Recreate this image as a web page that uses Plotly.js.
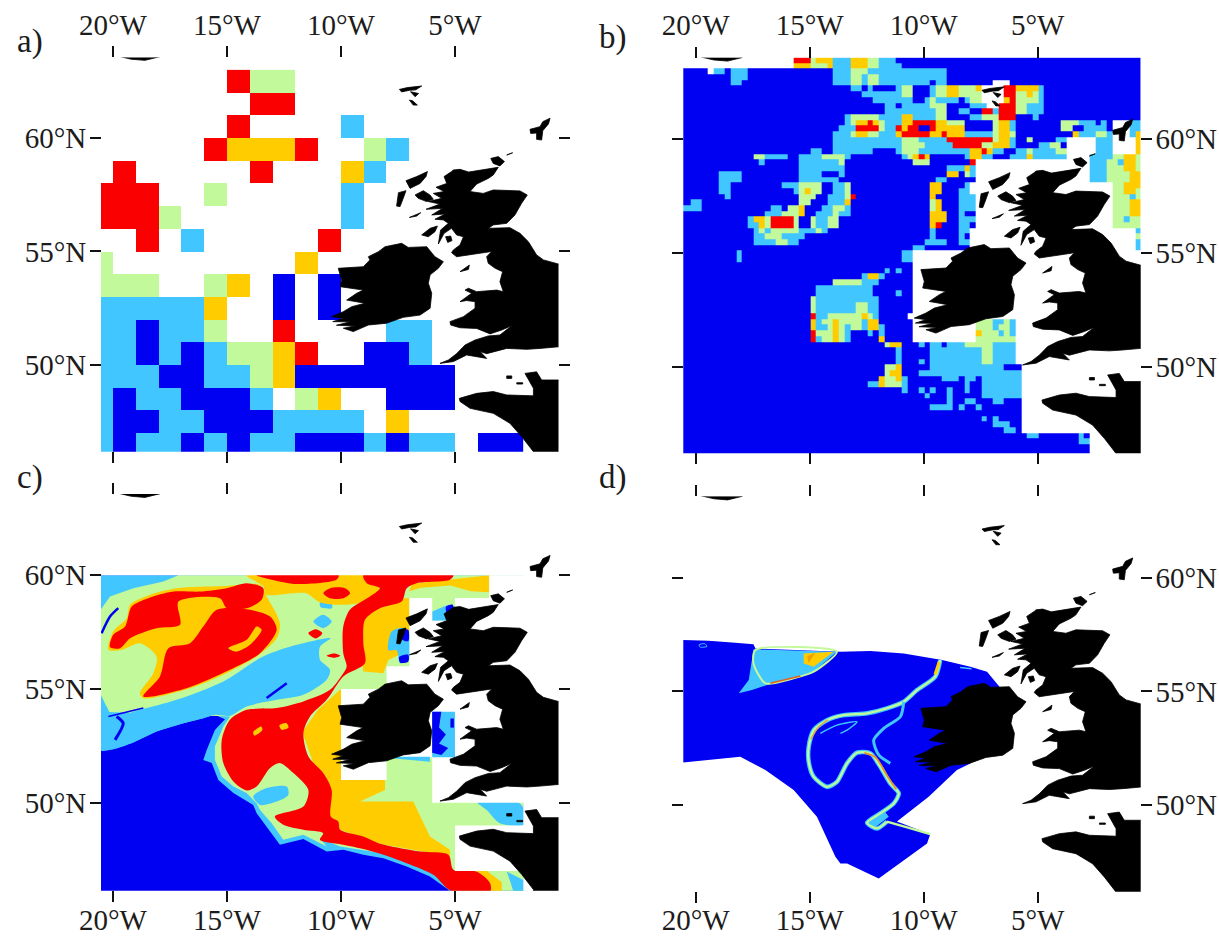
<!DOCTYPE html>
<html><head><meta charset="utf-8">
<script src="https://cdn.plot.ly/plotly-3.0.1.min.js"></script>
<style>html,body{margin:0;padding:0;background:#fff}</style></head>
<body><div id="chart" style="width:1219px;height:936px"></div>
<script>
const BLUE='#0000f2', LB='#42c6ff', GREEN='#c2f99a', YEL='#ffcc00', RED='#fa0000', LAND='#000000';
const tickLon=[-20,-15,-10,-5], tickLonText=['20°W','15°W','10°W','5°W'];
const tickLat=[50,55,60], tickLatText=['50°N','55°N','60°N'];

// Panel a: 1 degree cells, rows from 62-63N down to 46-47N, columns from 21W eastward. 1=low ... 5=high
const aRows=[
"......533..........",
".......55..........",
"......5....2.......",
".....54445..32.....",
".5.....5...42......",
"555..3.....2.......",
"5553.......2.......",
"..5.2.....5........",
"3........4.........",
"333..34.1.1........",
"222224..1.1........",
"221223..5....22....",
"2212123345..112....",
"2221122341111111...",
"21221112.34..111...",
"211221112222.4.....",
"2122121221112122.11"];

// Panel b: 0.25 degree cells. Each row lists level + column range, later entries overwrite earlier ones
const bRows=[
"e19-21 c22 d23-25 b26-28 d29-31 c32-33 b34-36 a37-79",
"d19-21 c22-24 d25 b26-28 d29-31 c32-33 b34-37 a38-79",
"a0-79 .4 b5-6 b8-10 b26-45 c29-31",
"a0-79 b8-10 b26-45 c29-30 c32-33",
"a0-79 b8-9 b26-45 c29-30 c32-33 a43 .54-56",
"a0-79 b29-30 b32 b37 c38-39 a40-42 b43 c44-45 d46-47 c48-50 d51 .52-55 e56-57 d58-61 b62",
"a0-79 b31-37 c38-39 a40-42 b43 c44-45 d46-47 c48-51 .52-55 e56-57 c58-59 d60 c61 b62",
"a0-79 b33-39 a40-41 b42 c43 b44-47 a48 b49 c50-51 .52-55 d56 e57 c58-61 b62",
"a0-79 b35-36 a37 b38-42 c43-45 a46-49 b50-52 .53-54 e55-57 c58-59 b60-62",
"a0-79 b35-43 c44-45 a46-47 b48-49 a50-51 e52-53 b54 e55-57 c58-59 b60-62",
"a0-79 b28 c29-33 b34-37 d38-39 b40-43 c44-45 a46-49 b50-51 c52-54 e55-57 a58-60 b61",
"a0-79 b28 c29 d30-31 e32 d33 c34 b35-37 d38-39 e40-43 d44-45 c46-48 a49-53 c54 d55-56 b57 c66-68 b69-71 a72 b73 a74 .75-77 b78-79",
"a0-79 b27-29 e30-33 c34 b35-36 e37 d38 e39-40 a41-42 e43 d44-48 a49-53 c54 d55-56 b57 c66-67 a68-69 b70-73 a74 .75-77 b78-79",
"a0-79 b26-28 c29 d30-31 c32-33 b34-36 d37 e38-42 d43-44 e45 d46-48 b49-53 c54 d55-56 c57 d68 b69-71 c72-73 b74 .75-77 b78 d79",
"a0-79 b26-37 c38-40 b41-45 e46-53 c54 d55-56 b57 c60 b65-66 .67-71 b72-74 .75-78 d79",
"a0-79 b26-37 c38-41 b42-46 e47-51 c52-53 d54-56 b57 b62-63 c64-65 .67-71 b72-74 .75-78 d79",
"a0-79 b22-23 b26-32 b37 c38-40 b41-49 d50-51 e52 d53 b54-55 b58-59 c60 b61-64 c65-66 .67-71 b72-74 .75-78 d79",
"a0-79 c12-13 b14-17 b20-23 c24-27 b28 b38 c39 d40 e41 d42 b49 d50-51 b52-53 b57-59 d60 b61-66 .67-70 b71-74 c75-76 d77-78 c79",
"a0-79 b13 b20-26 c27 c40-42 e50 .51-70 b71-73 c74-75 b76 d77-78 c79",
"a0-79 b20-27 b46-48 d49 b50 .51-70 b71-73 c74-76 d77-78 c79",
"a0-79 b6-9 b20-23 b27 d46-47 c49 b50 .51-70 b71-73 c74-77 d78-79",
"a0-79 b6-9 b20-26 b44-45 .51-70 b71-73 c74-77 d78-79",
"a0-79 b6-7 b17-19 c20-23 b26-27 c28 d43-44 b49 .50-74 c75-76 d77-79",
"a0-79 b6-7 b19 c20 d21 c22-23 b26-27 c28 d43-44 b48-49 .50-74 c75-76 d77-78 c79",
"a0-79 b7 c20-22 b25-27 c28 e29 d43 b48-50 .51-74 c75-77 b78 c79",
"a0-79 b1-2 c20-21 b25-27 d28 c43 d44 b48-50 .51-74 c75-77 d78-79",
"a0-79 b0-2 b15-16 c18-19 d20 b24-25 c26-27 b28 c43 d44 b48-50 .51-74 c75-77 d78-79",
"a0-79 b14-16 c17-19 d20 b23-25 c26 b27-28 d43-45 b48 .51-74 c75-77 d78-79",
"a0-79 b11 d12-13 c14 e15-18 c19 c22 b23-24 c25-26 d43-45 b48-50 .51-74 c75-76 b77 c78-79",
"a0-79 b11-12 d13 c14 e15-18 c19 c22 b23-24 c25-26 d43 e44 b48-49 .51-74 c75-79",
"a0-79 b12 c13 b14 c15-19 b20-22 c23 b24 b43 b48-49 .50-78 b79",
"a0-79 b12-13 c14-16 b17-20 b43 b48 .50-78 c79",
"a0-79 b12-19 c16-17 b42-45 b48-49 .50-78 b79",
"a0-79 b40-41 .50-78 b79",
"a0-39 b9 b38-39","a0-39 b9 b38-39","a0-39","a0-39 b35 b37",
"a0-39 b31 d32-33 b34","a0-39 c26-30 b31-33","a0-39 b23-32","a0-39 b23-32 b37",
"a0-39 c22 b23-33","a0-39 c22 b23-29 c30-31 b32-33","a0-39 c22 b23-29 c30-31 b32-33",
"a0-38 e22 b23-24 c25-27 c28-30 d31 c32 b33",
"a0-39 d22 b23 c24-25 d26 c27-30 b31 d32-33 c51-53 b54-55 c56 b57",
"a0-39 d22 b23-24 c25 d26 c27 b28 c29-30 b31 d32-33 b34 c51-53 b54 c55-56 b57",
"a0-39 e22 c23-25 d26 c27 b28 b32 b34 d51 c52-54 b55 c56 b57",
"a0-39 e22 b23 c24-25 d26 c27 b28 d34 c51-57",
"a0-57 c35 d36-37 b41 b43-44 b46-48 c49-53 b54-57",
"a0-57 b37 b43-57 c52-53","a0-57 b37 b43-57 c52-53","a0-57 b37 b41 b43-57 c52-53",
"a0-58 c35-36 d37 b43-55",
"a0-58 c35 d36-37 b41-58",
"a0-58 d34 c35-36 d37 b38 b45-47 b49-50 b52-58",
"a0-58 b32-33 d34 c35-37 b38 b49 b52-58",
"a0-58 b38 b41 b43 b46 b49 b52-58",
"a0-58 b42 b46 b52-58",
"a0-58 b46 b49-50 b54-55",
"a0-58 b43-46 b48 b51",
"a0-58","a0-58 b52 b54","a0-58 b54-56","a0-58 b56-57",
"a0-70 b60-61 b69","a0-70 b69-70","a0-70","a0-70"];

// Land outlines, [lon, lat]
const greatBritain=[[-5.07,58.59],[-4.78,58.62],[-4.4,58.5],[-4.05,58.55],[-3.1,58.71],[-3.32,58.37],[-3.54,58.22],[-4.05,57.97],[-4.34,57.64],[-3.76,57.56],[-3.32,57.71],[-2.15,57.67],[-1.83,57.49],[-2.08,57.12],[-2.37,56.61],[-2.73,56.24],[-3.32,56.17],[-3.54,56.02],[-2.59,56.05],[-2.15,55.8],[-1.78,55.43],[-1.42,54.85],[-1.12,54.63],[-0.47,54.45],[0.19,54.45],[0.19,50.8],[-0.47,50.8],[-1.27,50.73],[-1.85,50.69],[-2.73,50.73],[-3.61,50.5],[-3.9,50.59],[-3.61,50.29],[-4.49,50.44],[-5.07,50.15],[-5.66,50.07],[-5.29,50.22],[-4.93,50.5],[-4.56,50.88],[-4.12,51.1],[-3.54,51.28],[-3.03,51.32],[-2.51,51.73],[-2.95,51.54],[-3.46,51.37],[-4.05,51.61],[-4.78,51.64],[-5.19,51.76],[-5.22,51.91],[-4.63,52.13],[-4.12,52.5],[-4.12,52.79],[-4.49,52.84],[-4.78,52.79],[-4.49,53.01],[-4.27,53.16],[-4.56,53.3],[-4.41,53.38],[-4.05,53.23],[-3.17,53.3],[-2.88,53.23],[-3.03,53.67],[-2.91,54.11],[-3.24,54.26],[-3.54,54.48],[-3.61,54.77],[-3.39,55],[-3.9,54.92],[-4.49,54.85],[-4.93,54.77],[-5.15,54.95],[-5.07,55.07],[-4.78,55.29],[-4.63,55.65],[-4.93,55.73],[-5.15,56.02],[-5.48,55.8],[-5.73,55.33],[-5.63,55.95],[-5.29,56.24],[-5.51,56.39],[-5.88,56.42],[-5.44,56.65],[-6.02,56.61],[-5.54,56.9],[-6.27,56.86],[-5.66,57.09],[-6.17,57.2],[-5.58,57.34],[-5.95,57.56],[-5.48,57.64],[-5.83,57.83],[-5.36,58],[-5.48,58.3],[-5.15,58.52]];
const ireland=[[-10.12,54.26],[-9.6,54.3],[-9.02,54.33],[-8.73,54.63],[-8.8,54.77],[-8.36,54.99],[-8.07,55.21],[-7.34,55.36],[-7.05,55.18],[-6.24,55.21],[-5.88,54.77],[-5.51,54.55],[-5.73,54.26],[-6.09,53.97],[-6.17,53.6],[-6.02,53.16],[-6.09,52.5],[-6.53,52.2],[-7.27,52.1],[-8,51.84],[-8.8,51.76],[-9.46,51.47],[-9.9,51.62],[-9.4,51.72],[-10.2,51.75],[-9.6,51.9],[-10.36,51.91],[-9.9,52.06],[-10.41,52.13],[-9.9,52.35],[-9.53,52.57],[-8.95,52.72],[-9.75,52.86],[-9.31,53.16],[-9.02,53.3],[-10.04,53.45],[-9.97,53.74]];
const france=[[-4.78,48.39],[-4.81,48.53],[-4.05,48.75],[-3.32,48.83],[-2.73,48.68],[-1.56,48.64],[-1.56,48.97],[-1.93,49.63],[-1.42,49.7],[-1.2,49.34],[0.19,49.34],[0.19,45.8],[-1.56,45.8],[-1.56,46.18],[-2.07,46.84],[-2.59,47.43],[-3.32,47.87],[-4.34,48.09]];
const lewis=[[-7.15,58.12],[-6.68,58.3],[-6.21,58.52],[-6.27,58.3],[-6.53,58.0],[-6.97,57.78]];
const uist=[[-7.48,57.59],[-7.15,57.68],[-7.27,57.34],[-7.41,56.98],[-7.56,57.0]];
const skye=[[-6.75,57.49],[-6.39,57.68],[-6.1,57.49],[-5.95,57.3],[-6.24,57.2],[-6.61,57.34]];
const mull=[[-6.46,55.73],[-6.09,56.02],[-5.77,56.12],[-5.88,55.87],[-6.17,55.65]];
const arran=[[-5.41,55.65],[-5.19,55.68],[-5.13,55.48],[-5.32,55.4]];
const tiree=[[-7.0,56.5],[-6.5,56.71],[-6.68,56.56]];
const man=[[-4.78,54.11],[-4.37,54.4],[-4.41,54.21]];
const orkney=[[-3.43,59.1],[-3.1,59.18],[-2.83,58.96],[-3.03,58.77],[-3.32,58.88]];
const fairIsle=[[-2.73,59.25],[-2.47,59.35],[-2.6,59.33]];
const shetland=[[-1.71,60.38],[-1.27,60.5],[-1.15,60.72],[-0.83,60.87],[-0.9,60.62],[-1.15,60.32],[-1.2,59.91],[-1.42,59.94],[-1.42,60.22],[-1.68,60.2]];
const faroe=[[-7.44,62.14],[-7.09,62.22],[-6.46,62.29],[-6.72,62.12],[-7.0,62.1],[-7.34,62.03]];
const faroeMid=[[-6.95,62.04],[-6.6,61.96],[-6.75,61.82]];
const suduroy=[[-7,61.67],[-6.86,61.64],[-6.65,61.45],[-6.83,61.45]];
const jersey=[[-2.73,49.52],[-2.51,49.52],[-2.51,49.41],[-2.73,49.41]];
const guernsey=[[-2.29,49.22],[-2.03,49.22],[-2.03,49.16],[-2.29,49.16]];
const iceland=[[-19.75,63.6],[-19.2,63.47],[-18.6,63.42],[-17.95,63.58]];
const landShapes=[greatBritain,ireland,france,lewis,uist,skye,mull,arran,tiree,man,orkney,fairIsle,shetland,faroe,faroeMid,suduroy,jersey,guernsey,iceland];

// Panel c: classified areas, painted in order
const cBase=[[-20.6,60],[-2,60],[-2,46.1],[-20.6,46.1]];
const cShelfEdge=[[-20.6,60],[-2,60],[-2,46.1],[-5.29,46.1],[-5.29,46.17],[-6.1,46.75],[-7.12,47.19],[-8.14,47.56],[-9.02,47.71],[-9.9,47.93],[-10.63,47.85],[-11.65,48.4],[-12.68,48.15],[-13.26,48.95],[-13.7,49.54],[-13.85,49.9],[-14.72,50.42],[-15.38,51],[-15.67,51.74],[-16.04,51.88],[-15.89,52.32],[-15.53,53.2],[-15.09,53.67],[-15.53,53.86],[-16.04,53.71],[-16.91,53.49],[-18.09,53.13],[-19.11,52.65],[-19.99,52.35],[-20.6,52.32]];
const cShelf=[[-20.6,58.4],[-20.13,59.06],[-19.11,59.43],[-17.79,59.72],[-17.13,60],[-2,60],[-2,46.1],[-5.14,46.1],[-5.95,46.97],[-6.97,47.41],[-8.14,47.78],[-9.02,47.93],[-10.04,48.07],[-10.92,48.44],[-10.63,48.07],[-11.65,48.59],[-12.53,48.37],[-13.04,49.1],[-13.55,49.68],[-13.7,49.97],[-14.14,50.42],[-14.72,50.71],[-15.23,51.15],[-15.53,51.88],[-15.53,52.47],[-15.16,53.35],[-14.87,53.79],[-20.6,54.0]];
const cTrough=[[-20.6,54.81],[-20.28,54.23],[-19.99,53.79],[-18.82,54.08],[-17.21,54.52],[-15.16,55.33],[-13.41,56.43],[-11.94,56.94],[-10.45,57.23],[-10.92,56.86],[-10.92,56.28],[-10.48,55.84],[-10.63,55.4],[-11.65,54.74],[-12.82,54.52],[-14.14,54.23],[-14.87,53.82],[-15.53,53.86],[-16.04,53.71],[-16.91,53.49],[-18.09,53.13],[-19.11,52.65],[-19.99,52.35],[-20.6,52.32]];
const cBayPatch=[[-13.85,50.27],[-13.26,50.64],[-12.38,50.71],[-12.31,50.34],[-12.82,50.05],[-13.55,49.9]];
const cPatchA=[[-11.21,57.96],[-10.78,58.26],[-10.41,57.96],[-10.78,57.67]];
const cPatchB=[[-10.92,58.8],[-10.4,58.75],[-10.4,58.55],[-10.9,58.6]];
const cRockallY=[[-20.2,56.72],[-19.99,57.52],[-19.4,58.11],[-19.25,58.7],[-18.38,59.14],[-17.21,59.43],[-15.01,59.53],[-13.55,59.58],[-13.26,59.06],[-12.68,57.89],[-12.82,57.23],[-13.7,56.43],[-14.87,55.77],[-16.62,55.03],[-18.67,54.59],[-18.82,54.81],[-18.23,55.69],[-18.09,56.43],[-18.82,57.01],[-19.62,56.72]];
const cNorthY=[[-14.14,60],[-13.4,59.5],[-13.3,59.15],[-12.2,59.2],[-11.5,59.2],[-10.9,58.8],[-9.9,58.7],[-8.5,58.9],[-7.9,59.2],[-8.8,59.75],[-8.87,60]];
const cEastY=[[-9.1,58.9],[-7,59],[-7,56.7],[-7.92,56.28],[-8.14,55.69],[-9.02,55.77],[-9.2,57]];
const cSouthY=[[-11.7,53.1],[-11,54.1],[-10,55],[-10,51],[-8.07,51],[-8.07,50.56],[-9.17,50.05],[-6.83,50.05],[-6.1,48.51],[-5.22,47.93],[-5.22,47.63],[-8.43,48.22],[-10.04,48.81],[-10.63,49.25],[-10.9,50.5],[-11.3,52]];
const cNorthEastY=[[-6.9,59.62],[-5.2,59.8],[-3.5,60],[-3.5,59.25],[-4.3,59.3],[-5.2,59.55],[-6.5,59.45],[-7,59.3]];
const cCornerY=[[-4.05,47],[-3.6,47],[-2.95,46.5],[-2.95,46.1],[-3.46,46.1],[-3.46,46.46]];
const cCornerLb=[[-2.73,46.97],[-2,46.6],[-2,46.1],[-2.44,46.1],[-2.6,46.6]];
const cRockallR1=[[-20.13,56.83],[-19.99,57.38],[-19.47,57.74],[-19.18,58.62],[-18.45,58.99],[-17.35,59.28],[-16.18,59.28],[-15.01,59.43],[-14.14,59.65],[-13.41,59.43],[-13.48,58.92],[-14.14,58.55],[-15.01,58.55],[-15.31,58.99],[-17.13,58.84],[-17.06,57.82],[-18.09,57.67],[-19.25,57.23],[-19.69,56.79]];
const cRockallR2=[[-18.67,54.67],[-17.94,55.55],[-17.57,56.79],[-16.62,57.01],[-16.04,57.74],[-15.45,58.48],[-14.14,58.5],[-13.11,58.18],[-12.82,57.6],[-13.55,56.57],[-14.87,55.84],[-16.77,55.03]];
const cRockallInnerY=[[-14.94,56.79],[-14.14,57.16],[-13.7,57.74],[-13.48,57.6],[-13.99,56.94],[-14.58,56.64]];
const cTopR=[[-13.7,60],[-10.1,60],[-10.2,59.8],[-11.94,59.61],[-13.04,59.8]];
const cOvalA=[[-10.77,59.21],[-10.48,59.43],[-9.82,59.43],[-9.6,59.21],[-9.9,58.99],[-10.48,58.99]];
const cOvalB=[[-11.43,57.45],[-11.1,57.62],[-10.82,57.45],[-11.1,57.22]];
const cOvalC=[[-10.63,56.46],[-10.3,56.56],[-10.03,56.46],[-10.3,56.37]];
const cSlopeR=[[-9.02,60],[-5.07,60],[-5.22,59.8],[-6.68,59.65],[-7.12,59.43],[-7.34,58.84],[-8.29,58.55],[-8.95,58.04],[-9.02,57.01],[-8.95,56.13],[-9.9,55.55],[-10.63,54.52],[-11.36,53.79],[-11.65,53.06],[-11.43,52.03],[-10.78,51.3],[-10.41,50.56],[-10.45,49.39],[-10.12,49.17],[-10.04,48.81],[-9.02,48.51],[-8.36,48.22],[-6.53,47.85],[-5.29,47.71],[-5.07,47.05],[-4.05,46.97],[-3.46,46.46],[-3.46,46.1],[-5.14,46.1],[-5.95,46.83],[-7.12,47.34],[-8.14,47.71],[-9.02,47.96],[-9.9,48.15],[-10.92,48.37],[-10.78,48.66],[-11.65,48.81],[-12.53,49.03],[-12.9,49.39],[-11.65,49.83],[-11.43,50.56],[-12.09,51.3],[-12.68,51.74],[-13.11,51.52],[-13.7,50.71],[-14.14,50.54],[-14.72,50.93],[-15.16,51.74],[-15.23,52.76],[-14.87,53.64],[-14.14,54.08],[-12.82,54.16],[-11.65,54.45],[-10.48,54.96],[-9.9,55.69],[-9.75,55.99],[-9.9,56.57],[-9.9,57.74],[-9.61,58.48],[-8.73,59.06],[-8.29,59.43],[-8.87,59.65]];
const cPorcupineYa=[[-13.85,53.1],[-13.5,53.35],[-13.45,53.2],[-13.8,52.95]];
const cPorcupineYb=[[-12.7,53.4],[-12.4,53.5],[-12.3,53.3],[-12.6,53.2]];
const cChannelLb=[[-4.05,50.05],[-2.29,50.05],[-2,49.76],[-2,49.03],[-3.03,49.1],[-3.61,49.68]];
const cCoastLb=[[-7.92,56.7],[-7.78,57.52],[-7.27,57.67],[-7,57.4],[-7,56.3],[-7.41,56.13],[-7.56,56.7]];
const cCoastBlueA=[[-7.4,57.6],[-7.05,57.6],[-7.05,57.1],[-7.35,57.2]];
const cCoastBlueB=[[-7.45,56.4],[-7.05,56.5],[-7.05,56.2],[-7.4,56.15]];
const cMinchLb=[[-6,58],[-6,58.4],[-5.3,58.7],[-5,58.6],[-5,58]];
const cMinchBlue=[[-5.4,58.6],[-5.1,58.7],[-5.1,58.3],[-5.3,58.2]];
const cNoData=[[-3.5,60],[0.5,60],[0.5,45.9],[-2,45.9],[-2,47],[-5,47],[-5,49],[-2,49],[-2,50],[-6,50],[-6,52],[-8,52],[-8,51],[-10,51],[-10,55],[-8,55],[-8,56],[-7,56],[-7,59],[-6,59],[-6,58],[-5,58],[-5,59],[-3.5,59]];
const cTopCap=[[-21,60],[0.5,60],[0.5,61],[-21,61]];
const cIrishSea=[[-6,54],[-5,54],[-5,52],[-6,52]];
const cIrishBlueA=[[-6,54],[-5.6,54],[-5.7,53.3],[-5.4,53],[-5.7,52.6],[-5.3,52.4],[-5.6,52.1],[-6,52.2]];
const cIrishBlueB=[[-5.2,53.7],[-5.05,53.7],[-5.05,53.3],[-5.2,53.3]];
const cCelticLb=[[-7.78,52.02],[-6.1,52.02],[-6.1,51.8],[-7.78,51.95]];
const cStreakA=[[-20.5,57.45],[-20.13,58.18],[-19.77,58.55]];
const cStreakB=[[-20.2,53.79],[-18.67,54.16]];
const cStreakC=[[-19.84,53.79],[-19.55,53.49],[-19.91,52.76]];
const cStreakD=[[-13.26,54.6],[-12.38,55.25]];

// Panel d: area and narrow bands
const dArea=[[-20.6,57.26],[-19.43,57.23],[-18.26,57.14],[-17.46,57.08],[-17.38,56.89],[-13.65,56.75],[-12.33,56.78],[-10.87,56.67],[-9.19,56.38],[-7.95,56.09],[-7.22,55.87],[-6.78,55.36],[-6.5,55],[-7.2,53.3],[-7.95,51.84],[-8.54,51.55],[-9.78,50.37],[-11.17,49.28],[-9.71,48.73],[-9.85,48.32],[-11.97,46.78],[-13.36,47.44],[-13.65,47.44],[-13.87,47.74],[-14.68,49.49],[-15.7,50.67],[-16.94,51.55],[-18.04,52.13],[-20.6,51.87]];
const dBankShape=[[-17.46,56.85],[-13.8,56.75],[-14.82,55.87],[-15.7,55.58],[-16.87,55.28],[-17.53,55.06],[-18.11,54.92],[-17.67,55.5]];
const dBankRim=[[-13.8,56.75],[-17.38,56.82],[-17.46,56.23],[-16.94,55.36],[-15.7,55.58],[-14.82,55.87],[-13.8,56.75]];
const dBankHigh=[[-15.26,56.67],[-13.95,56.75],[-14.82,56.09],[-15.26,56.23]];
const dBankPeak=[[-15.1,56.55],[-14.75,56.7],[-15.05,56.25]];
const dBankEdge=[[-16.72,55.36],[-15.41,55.68]];
const dCapeBlob=[[-12.56,49.28],[-11.75,49.79],[-11.53,49.49],[-12.19,48.98]];
const dSlope=[[-9.27,56.38],[-9.49,55.65],[-10.29,55.06],[-10.87,54.55],[-11.61,54.26],[-12.48,54.04],[-13.51,53.96],[-14.24,53.74],[-14.82,53.3],[-15.04,52.57],[-15.04,51.91],[-14.82,51.25],[-14.24,50.81],[-13.8,51.03],[-13.36,51.84],[-12.92,52.31],[-12.33,52.28],[-11.9,51.69],[-11.46,50.96],[-11.09,50.52],[-11.31,50.08],[-11.9,49.64],[-12.48,49.23],[-12.04,48.98],[-11.61,49.28]];
const dBranch=[[-10.87,54.55],[-11.02,53.89],[-11.75,53.38],[-12.19,52.86],[-11.97,52.21],[-11.46,51.84]];
const dInner=[[-14.53,53.16],[-13.8,53.52],[-12.92,53.67],[-13.36,53.3],[-13.65,53.16]];
const dCape=[[-11.61,49.28],[-10.8,49.05],[-9.71,48.73]];
const dHot=[[-14.95,52.9],[-14.6,53.45],[-14.2,53.75]];
const dHotB=[[-12.6,52.3],[-12.1,52.1],[-11.6,51.3],[-11.2,50.7]];
const dHotC=[[-9.32,56.3],[-9.5,55.75]];
const dRing=[[-19.85,57.05],[-19.6,57.1],[-19.5,56.98],[-19.8,56.95],[-19.85,57.05]];
const dNorthStreak=[[-8.4,56.05],[-7.9,56.0]];

// Panel geometry
const W=1219,H=936;
const boxes=[
 {l:101,r:558.5,t:57.5,b:451.7,lon:[-20.526,-0.46],lat:[46.18,63.546],xs:'top',ys:'left',off:0},
 {l:683.3,r:1140.7,t:57.7,b:453.3,lon:[-20.54,-0.48],lat:[46.19,63.57],xs:'top',ys:'right',off:0},
 {l:101,r:558.5,t:494,b:890.7,lon:[-20.526,-0.46],lat:[46.13,63.57],xs:'bottom',ys:'left',off:-7},
 {l:683.3,r:1140.7,t:496.5,b:891.7,lon:[-20.54,-0.48],lat:[46.2,63.57],xs:'bottom',ys:'right',off:-8}];

const scale=[[0,BLUE],[0.2,BLUE],[0.2,LB],[0.4,LB],[0.4,GREEN],[0.6,GREEN],[0.6,YEL],[0.8,YEL],[0.8,RED],[1,RED]];
const traces=[];
const axn=i=>i===0?['x','y']:['x'+(i+1),'y'+(i+1)];

function heat(i,x,y,z){const [xa,ya]=axn(i);traces.push({type:'heatmap',x,y,z,xaxis:xa,yaxis:ya,colorscale:scale,zmin:0.5,zmax:5.5,showscale:false,hoverinfo:'skip',zsmooth:false});}
function poly(i,pts,color,smooth){const [xa,ya]=axn(i);const p=pts.concat([pts[0]]);traces.push({type:'scatter',mode:'lines',x:p.map(q=>q[0]),y:p.map(q=>q[1]),xaxis:xa,yaxis:ya,fill:'toself',fillcolor:color,line:smooth?{width:0,color:color,shape:'spline',smoothing:0.8}:{width:0,color:color},hoverinfo:'skip',showlegend:false});}
function line(i,pts,color,w){const [xa,ya]=axn(i);traces.push({type:'scatter',mode:'lines',x:pts.map(q=>q[0]),y:pts.map(q=>q[1]),xaxis:xa,yaxis:ya,line:{width:w,color:color,shape:'spline',smoothing:0.7},hoverinfo:'skip',showlegend:false});}
function land(i){landShapes.forEach(s=>{const [xa,ya]=axn(i);const p=s.concat([s[0]]);traces.push({type:'scatter',mode:'lines',x:p.map(q=>q[0]),y:p.map(q=>q[1]),xaxis:xa,yaxis:ya,fill:'toself',fillcolor:LAND,line:{width:0.8,color:LAND},hoverinfo:'skip',showlegend:false});});}

// a
{const rows=aRows.slice().reverse();
 const z=rows.map(r=>r.split('').map(c=>c==='.'?null:+c));
 const x=z[0].map((_,k)=>-21+k+0.5), y=rows.map((_,j)=>46+j+0.5);
 heat(0,x,y,z);land(0);}
// b
{const nCol=80;const key={a:1,b:2,c:3,d:4,e:5};
 const z=bRows.map(r=>{const a=new Array(nCol).fill(null);
   r.split(' ').forEach(t=>{const c=t[0],m=t.slice(1).split('-').map(Number);const from=m[0],to=m.length>1?m[1]:m[0];
     for(let k=from;k<=to;k++)a[k]=c==='.'?null:key[c];});return a;});
 const x=[-20.7];for(let k=1;k<=nCol;k++)x.push(-20.47+0.25*k);
 const y=[];for(let i=bRows.length;i>=0;i--)y.push(63.59-0.25*i);
 heat(1,x,y,z.slice().reverse());land(1);}
// c
[[cBase,BLUE],[cShelfEdge,LB],[cShelf,GREEN],[cTrough,LB,1],[cBayPatch,LB,1],[cPatchA,LB,1],[cPatchB,LB,1],
 [cRockallY,YEL,1],[cNorthY,YEL,1],[cEastY,YEL],[cSouthY,YEL],[cNorthEastY,YEL],[cCornerY,YEL],[cCornerLb,LB],
 [cRockallR1,RED,1],[cRockallR2,RED,1],[cRockallInnerY,YEL,1],[cTopR,RED,1],[cOvalA,RED,1],[cOvalB,RED,1],[cOvalC,RED,1],[cSlopeR,RED,1],[cPorcupineYa,YEL,1],[cPorcupineYb,YEL,1],
 [cChannelLb,LB,1],[cCoastLb,LB,1],[cCoastBlueA,BLUE,1],[cCoastBlueB,BLUE,1],[cMinchLb,LB],[cMinchBlue,BLUE,1],
 [cNoData,'#ffffff'],[cTopCap,'#ffffff'],[cIrishSea,LB],[cIrishBlueA,BLUE],[cIrishBlueB,BLUE],[cCelticLb,LB]
].forEach(a=>poly(2,a[0],a[1],a[2]));
line(2,cStreakA,BLUE,2.5);line(2,cStreakB,BLUE,1.5);line(2,cStreakC,BLUE,3);line(2,cStreakD,BLUE,2.5);
land(2);
// d
poly(3,dArea,BLUE);
poly(3,dBankShape,LB);
poly(3,dBankHigh,YEL);poly(3,dBankPeak,'#f0a000');
line(3,dBankRim,GREEN,2);
line(3,dBankEdge,'#e06020',1.6);
poly(3,dCapeBlob,LB);
line(3,dSlope,LB,4.5);line(3,dSlope,GREEN,2.2);
line(3,dBranch,LB,3);line(3,dInner,LB,1.5);
line(3,dCape,GREEN,2.5);line(3,dHot,'#e8a040',1.4);line(3,dHotB,'#e89030',1.8);line(3,dHotC,YEL,3);
line(3,dRing,LB,1);line(3,dNorthStreak,LB,1.5);
land(3);

const font={family:'"Liberation Serif","Times New Roman",serif',size:29,color:'#1c1c1c'};
const layout={width:W,height:H,margin:{l:0,r:0,t:0,b:0},paper_bgcolor:'#fff',plot_bgcolor:'rgba(0,0,0,0)',showlegend:false,font,
 annotations:[['a)',15,42],['b)',597,38],['c)',15,478],['d)',597,478]].map(a=>({text:a[0],x:a[1]/W,y:1-a[2]/H,xref:'paper',yref:'paper',xanchor:'left',yanchor:'middle',showarrow:false,font:{family:font.family,size:33,color:'#1c1c1c'}}))};
boxes.forEach((b,i)=>{
 const sx=i===0?'':String(i+1);
 const common={ticks:'outside',ticklen:11,tickwidth:2,tickcolor:'#111',mirror:'ticks',showline:true,linewidth:0.01,linecolor:'rgba(0,0,0,0)',showgrid:false,zeroline:false,fixedrange:true,tickmode:'array',tickfont:font};
 layout['xaxis'+sx]=Object.assign({},common,{domain:[b.l/W,b.r/W],range:b.lon,anchor:'y'+sx,side:b.xs,tickvals:tickLon,ticktext:tickLonText,ticklabelstandoff:b.off});
 layout['yaxis'+sx]=Object.assign({},common,{domain:[1-b.b/H,1-b.t/H],range:b.lat,anchor:'x'+sx,side:b.ys,tickvals:tickLat,ticktext:tickLatText,ticklabelstandoff:-2});
});
Plotly.newPlot('chart',traces,layout,{displayModeBar:false,staticPlot:true});
</script></body></html>
